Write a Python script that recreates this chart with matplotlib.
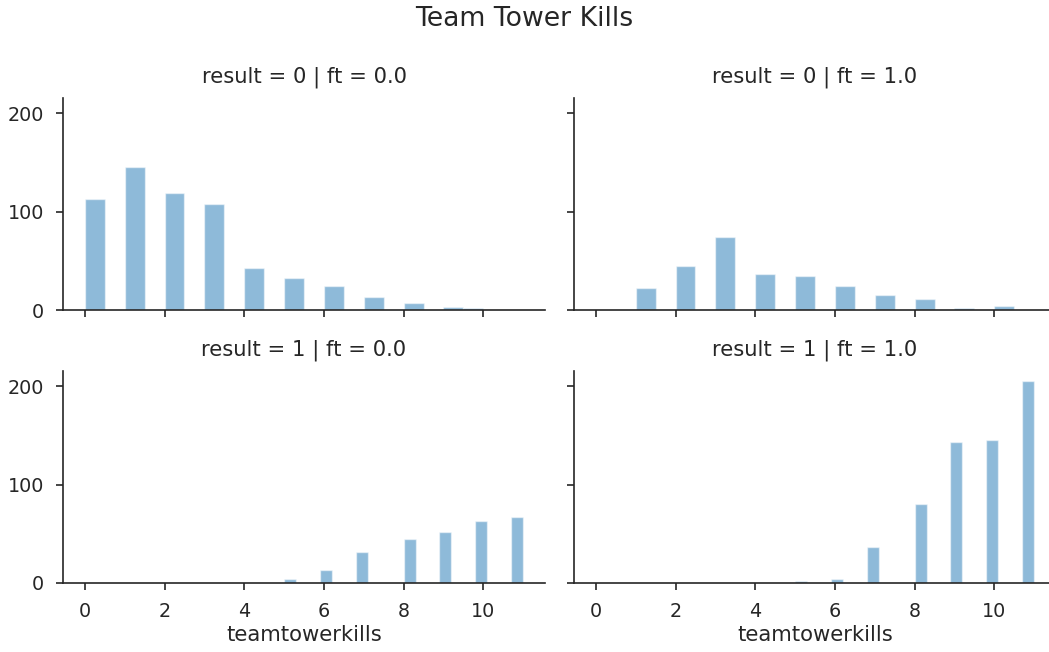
import matplotlib
matplotlib.use("Agg")
import matplotlib.pyplot as plt
import numpy as np

# tower kill values and how many games had each, per facet
kills = [0, 1, 2, 3, 4, 5, 6, 7, 8, 9, 10, 11]

# result = 0, ft = 0.0
counts_r0_f0 = [113, 145, 119, 108, 43, 32, 24, 13, 7, 3, 2, 0]
# result = 0, ft = 1.0
counts_r0_f1 = [0, 22, 45, 74, 37, 35, 24, 15, 11, 2, 4, 0]
# result = 1, ft = 0.0
counts_r1_f0 = [0, 0, 0, 0, 0, 4, 13, 31, 45, 52, 63, 67]
# result = 1, ft = 1.0
counts_r1_f1 = [0, 0, 0, 0, 0, 2, 4, 37, 80, 143, 145, 205]

facets = [
    ("result = 0 | ft = 0.0", counts_r0_f0, (0, 10)),
    ("result = 0 | ft = 1.0", counts_r0_f1, (1, 11)),
    ("result = 1 | ft = 0.0", counts_r1_f0, (5, 11)),
    ("result = 1 | ft = 1.0", counts_r1_f1, (5, 11)),
]

dark = "#262626"
plt.rcParams["font.family"] = "DejaVu Sans"
plt.rcParams["text.color"] = dark
plt.rcParams["axes.labelcolor"] = dark
plt.rcParams["xtick.color"] = dark
plt.rcParams["ytick.color"] = dark

W, H = 1049, 652
fig = plt.figure(figsize=(W / 100, H / 100), dpi=100)

# axes boxes in pixels: left, top, width, height
aw, ah = 482, 212
boxes = [(63, 98), (574, 98), (63, 371), (574, 371)]

axes = []
for i, (name, counts, rng) in enumerate(facets):
    x0, y0 = boxes[i]
    rect = [x0 / W, (H - y0 - ah) / H, aw / W, ah / H]
    if axes:
        ax = fig.add_axes(rect, sharex=axes[0], sharey=axes[0])
    else:
        ax = fig.add_axes(rect)
    axes.append(ax)

    ax.hist(kills, bins=20, range=rng, weights=counts, color="#1f77b4",
            alpha=0.5, edgecolor="white", linewidth=1)
    ax.set_title(name, fontsize=15.2, color=dark, pad=11)

    for s in ["top", "right"]:
        ax.spines[s].set_visible(False)
    for s in ["left", "bottom"]:
        ax.spines[s].set_color(dark)
        ax.spines[s].set_linewidth(1.2)
    ax.tick_params(labelsize=13.8, length=5, width=1.2, pad=8.5)

    if i < 2:
        ax.tick_params(labelbottom=False)
    else:
        ax.set_xlabel("teamtowerkills", fontsize=15.2, labelpad=3)
    if i % 2 == 1:
        ax.tick_params(labelleft=False)

axes[0].set_xticks([0, 2, 4, 6, 8, 10])
axes[0].set_yticks([0, 100, 200])

fig.suptitle("Team Tower Kills", fontsize=19.2, y=1 - 19 / H, va="center")

fig.savefig("out.png", dpi=100)
